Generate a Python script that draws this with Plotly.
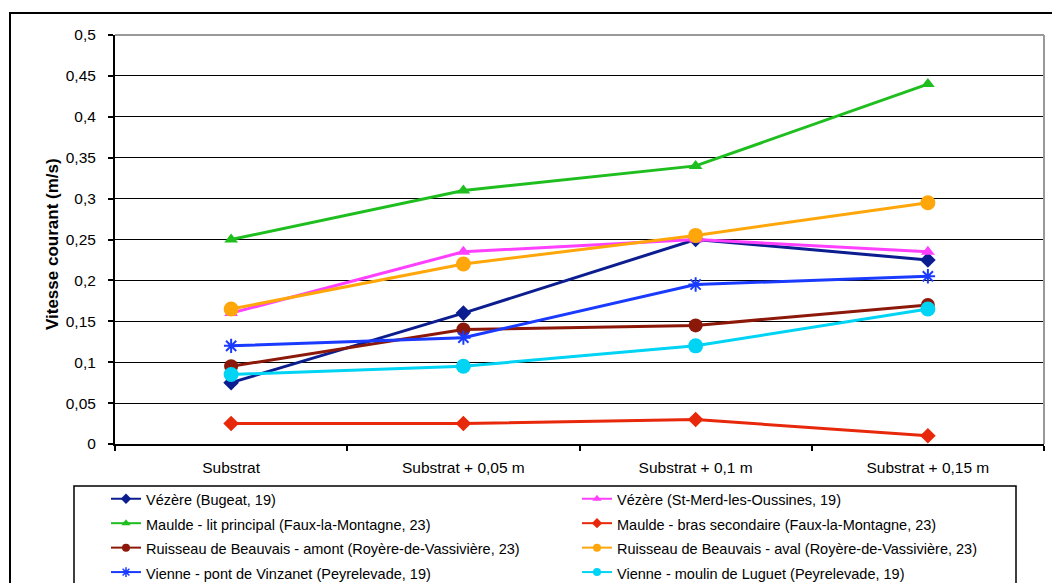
import plotly.graph_objects as go

categories = ["Substrat", "Substrat + 0,05 m", "Substrat + 0,1 m", "Substrat + 0,15 m"]

vezere_bugeat = [0.075, 0.16, 0.25, 0.225]
vezere_stmerd = [0.16, 0.235, 0.25, 0.235]
maulde_lit = [0.25, 0.31, 0.34, 0.44]
maulde_bras = [0.025, 0.025, 0.03, 0.01]
beauvais_amont = [0.095, 0.14, 0.145, 0.17]
beauvais_aval = [0.165, 0.22, 0.255, 0.295]
vienne_pont = [0.12, 0.13, 0.195, 0.205]
vienne_moulin = [0.085, 0.095, 0.12, 0.165]

series_names = [
    "Vézère (Bugeat, 19)",
    "Vézère (St-Merd-les-Oussines, 19)",
    "Maulde - lit principal (Faux-la-Montagne, 23)",
    "Maulde - bras secondaire (Faux-la-Montagne, 23)",
    "Ruisseau de Beauvais - amont (Royère-de-Vassivière, 23)",
    "Ruisseau de Beauvais - aval (Royère-de-Vassivière, 23)",
    "Vienne - pont de Vinzanet (Peyrelevade, 19)",
    "Vienne - moulin de Luguet (Peyrelevade, 19)",
]
series_values = [vezere_bugeat, vezere_stmerd, maulde_lit, maulde_bras,
                 beauvais_amont, beauvais_aval, vienne_pont, vienne_moulin]
series_colors = ["#0B1D8F", "#FF40FF", "#1FBE1F", "#E8280A",
                 "#8C180A", "#FFA70A", "#1A3BFF", "#00D4F5"]
series_symbols = ["diamond", "triangle-up", "triangle-up", "diamond",
                  "circle", "circle", "asterisk-open", "circle"]
series_sizes = [12, 12, 12, 12, 14, 15, 12, 15]

y_tickvals = [0, 0.05, 0.1, 0.15, 0.2, 0.25, 0.3, 0.35, 0.4, 0.45, 0.5]
y_ticktext = ["0", "0,05", "0,1", "0,15", "0,2", "0,25", "0,3", "0,35", "0,4", "0,45", "0,5"]

FONT = "Liberation Sans, Arial, sans-serif"

fig = go.Figure()
for i, (name, vals, col, sym, sz) in enumerate(zip(series_names, series_values, series_colors,
                                                   series_symbols, series_sizes)):
    fig.add_trace(go.Scatter(
        x=categories, y=vals, name=name, legendgroup=f"g{i}", showlegend=False,
        mode="lines+markers",
        line=dict(color=col, width=3),
        marker=dict(color=col, symbol=sym, size=sz,
                    line=dict(color=col, width=2 if sym == "asterisk-open" else 0)),
    ))
# legend entries (small legend keys, as in the original)
for i, (name, col, sym) in enumerate(zip(series_names, series_colors, series_symbols)):
    fig.add_trace(go.Scatter(
        x=[None], y=[None], name='<span style="font-size:14.5px">' + name + '</span>',
        legendgroup=f"g{i}", showlegend=True, mode="lines+markers",
        line=dict(color=col, width=2),
        marker=dict(color=col, symbol=sym, size=8,
                    line=dict(color=col, width=1.5 if sym == "asterisk-open" else 0)),
    ))

L, T, W, H = 115, 35, 929, 409


def px(x):
    return (x - L) / W


def py(y):
    return (T + H - y) / H


shapes = [
    # outer frame
    dict(type="rect", xref="paper", yref="paper", x0=px(10), x1=px(1062),
         y0=py(13), y1=py(605), line=dict(color="black", width=2), layer="above"),
    # legend frame
    dict(type="rect", xref="paper", yref="paper", x0=px(74), x1=px(1016),
         y0=py(486), y1=py(605), line=dict(color="black", width=1.5), layer="above"),
    # plot area border (top, right)
    dict(type="line", xref="paper", yref="paper", x0=0, x1=1, y0=1, y1=1,
         line=dict(color="#999999", width=2), layer="above"),
    dict(type="line", xref="paper", yref="paper", x0=1, x1=1, y0=0, y1=1,
         line=dict(color="#999999", width=2), layer="above"),
]

fig.update_layout(
    width=1052, height=583,
    margin=dict(l=L, r=1052 - L - W, t=T, b=583 - T - H, autoexpand=False),
    paper_bgcolor="white", plot_bgcolor="white",
    font=dict(family=FONT, size=15.5, color="black"),
    showlegend=True,
    legend=dict(
        orientation="h", x=px(106), xanchor="left", y=py(481.5), yanchor="top",
        entrywidth=426, entrywidthmode="pixels",
        font=dict(family=FONT, size=16.5, color="black"),
        bgcolor="rgba(0,0,0,0)", borderwidth=0, traceorder="normal",
        groupclick="togglegroup",
    ),
    shapes=shapes,
    annotations=[dict(
        text="<b>Vitesse courant (m/s)</b>", xref="paper", yref="paper",
        x=px(52), y=py(244), xanchor="center", yanchor="middle", textangle=-90,
        showarrow=False, font=dict(family=FONT, size=17, color="black"),
    )],
)

fig.update_xaxes(
    type="category", categoryorder="array", categoryarray=categories,
    range=[-0.5, 3.5],
    showgrid=False, showline=True, linecolor="black", linewidth=2,
    ticks="outside", tickson="boundaries", ticklen=5, tickwidth=1.5, tickcolor="black",
    ticklabelstandoff=8, tickfont=dict(family=FONT, size=15.5, color="black"),
    zeroline=False,
)
fig.update_yaxes(
    range=[0, 0.5], tickvals=y_tickvals, ticktext=y_ticktext,
    showgrid=True, gridcolor="black", gridwidth=1,
    showline=True, linecolor="black", linewidth=2,
    ticks="outside", ticklen=5, tickwidth=1.5, tickcolor="black",
    ticklabelstandoff=9, tickfont=dict(family=FONT, size=15.5, color="black"),
    zeroline=False,
)

fig.write_html("out.html")
